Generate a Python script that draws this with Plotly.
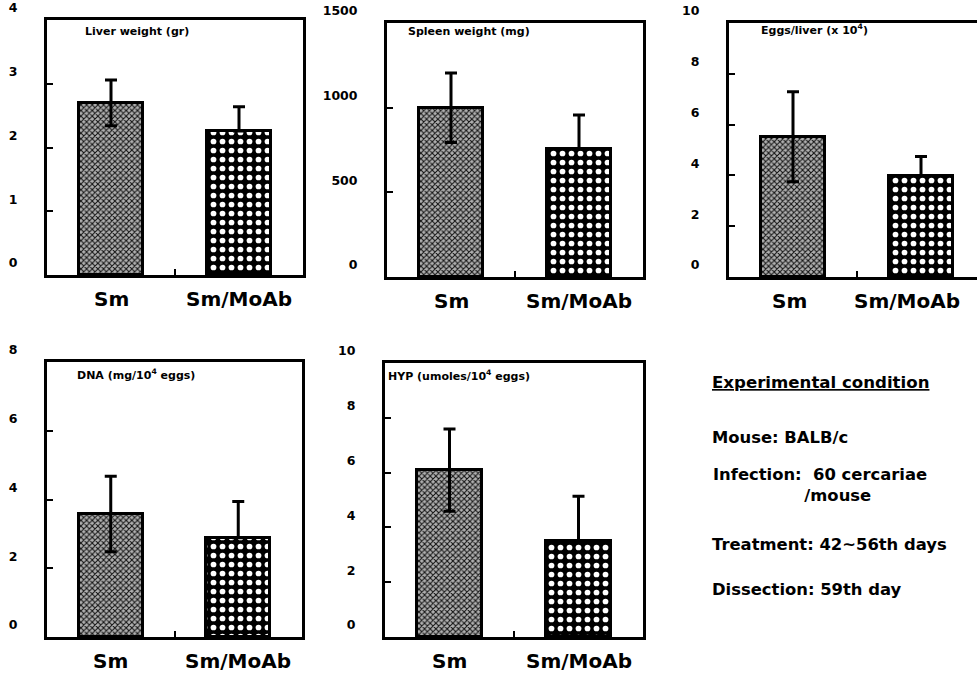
import plotly.graph_objects as go

# ---- data ----
categories = ["Sm", "Sm/MoAb"]
liver = [2.70, 2.26]
liver_err = [0.36, 0.38]
spleen = [1000, 756]
spleen_err = [205, 200]
eggs = [5.52, 3.99]
eggs_err = [1.77, 0.75]
dna = [3.58, 2.89]
dna_err = [1.10, 1.05]
hyp = [6.09, 3.51]
hyp_err = [1.50, 1.63]

titles = ["Liver weight (gr)", "Spleen weight (mg)", "Eggs/liver (x 10<sup>4</sup>)",
          "DNA (mg/10<sup>4</sup> eggs)", "HYP (umoles/10<sup>4</sup> eggs)"]
liver_ticks = [0, 1, 2, 3, 4]
spleen_ticks = [0, 500, 1000, 1500]
eggs_ticks = [0, 2, 4, 6, 8, 10]
dna_ticks = [0, 2, 4, 6, 8]
hyp_ticks = [0, 2, 4, 6, 8, 10]

NB = "\u00a0"
conditions = ["Mouse: BALB/c",
              "Infection:" + NB * 2 + "60 cercariae<br>" + NB * 16 + "/mouse",
              "Treatment: 42~56th days", "Dissection: 59th day"]

W, H = 977, 676
FONT = "DejaVu Sans"

# panel layout: (values, errors, ticks, title, px box left,right,top,bottom, xmax, title pos, label shifts)
panels = [
    (liver, liver_err, liver_ticks, titles[0], (47, 303, 20, 275), 1.5, (0.14, 0.955), (0, 0)),
    (spleen, spleen_err, spleen_ticks, titles[1], (387, 643, 23, 277), 1.5, (0.075, 0.965), (0, 0)),
    (eggs, eggs_err, eggs_ticks, titles[2], (729, 977, 23, 277), 1.4375, (0.12, 0.975), (-4, -14)),
    (dna, dna_err, dna_ticks, titles[3], (47, 302, 362, 637), 1.5, (0.11, 0.955), (0, 0)),
    (hyp, hyp_err, hyp_ticks, titles[4], (385, 643, 363, 637), 1.5, (0.005, 0.955), (0, 0)),
]

fig = go.Figure()
annotations = []
for i, (vals, errs, ticks, title, box, xmax, tpos, lshift) in enumerate(panels, start=1):
    xa = "x" if i == 1 else f"x{i}"
    ya = "y" if i == 1 else f"y{i}"
    l, r, t, b = box
    fig.add_trace(go.Bar(
        x=[0, 1], y=vals, xaxis=xa, yaxis=ya, width=0.5,
        marker=dict(
            line=dict(color="black", width=3),
            pattern=dict(shape=["x", "."], fgcolor=["#111111", "white"],
                         bgcolor=["#b0b0b0", "black"], size=[4, 9],
                         solidity=[0.45, 0.32], fillmode="replace"),
        ),
        error_y=dict(type="data", array=errs, arrayminus=[errs[0], 0], symmetric=False,
                     visible=True, color="black", thickness=3, width=6),
        showlegend=False, hoverinfo="skip",
    ))
    ymax = ticks[-1]
    fig.update_layout(**{
        ("xaxis" if i == 1 else f"xaxis{i}"): dict(
            domain=[l / W, r / W], anchor=ya, range=[-0.5, xmax],
            tickvals=[0.5], ticks="inside", ticklen=6, tickwidth=2, tickcolor="black",
            showticklabels=False, automargin=False,
            showline=True, mirror=True, linewidth=3, linecolor="black",
            showgrid=False, zeroline=False, fixedrange=True,
        ),
        ("yaxis" if i == 1 else f"yaxis{i}"): dict(
            domain=[1 - b / H, 1 - t / H], anchor=xa, range=[0, ymax],
            tickvals=ticks, ticktext=[str(v) for v in ticks],
            ticks="inside", ticklen=6, tickwidth=2, tickcolor="black",
            tickfont=dict(family=FONT, size=12.5, color="black", weight="bold"),
            ticklabelstandoff=24, ticklabelshift=-12, automargin=False,
            showline=True, mirror=True, linewidth=3, linecolor="black",
            showgrid=False, zeroline=False, fixedrange=True,
        ),
    })
    annotations.append(dict(
        text=f"<b>{title}</b>", xref=f"{xa} domain", yref=f"{ya} domain",
        x=tpos[0], y=tpos[1], xanchor="left", yanchor="middle", showarrow=False,
        font=dict(family=FONT, size=11, color="black"),
    ))
    for k, cat in enumerate(categories):
        annotations.append(dict(
            text=f"<b>{cat}</b>", xref=xa, yref=f"{ya} domain",
            x=k, y=0, yshift=-24, xshift=lshift[k], xanchor="center", yanchor="middle",
            showarrow=False, font=dict(family=FONT, size=20, color="black"),
        ))

# right-hand text block
annotations.append(dict(
    text="<b><u>Experimental condition</u></b>", xref="paper", yref="paper",
    x=710 / W, y=1 - 383 / H, xanchor="left", yanchor="middle", showarrow=False,
    font=dict(family=FONT, size=16.6, color="black"),
))
cond_pos = [(710, 437), (711, 485), (710, 544), (710, 589)]
for txt, (cx, cy) in zip(conditions, cond_pos):
    annotations.append(dict(
        text=f"<b>{txt}</b>", xref="paper", yref="paper",
        x=cx / W, y=1 - cy / H, xanchor="left", yanchor="middle", showarrow=False,
        align="left", font=dict(family=FONT, size=16.4, color="black"),
    ))

fig.update_layout(
    width=W, height=H, margin=dict(l=0, r=0, t=0, b=0),
    paper_bgcolor="white", plot_bgcolor="white",
    annotations=annotations, bargap=0,
)
fig.write_html("out.html", config={"displayModeBar": False},
               post_script="document.body.style.margin='0';document.body.style.overflow='hidden';")
